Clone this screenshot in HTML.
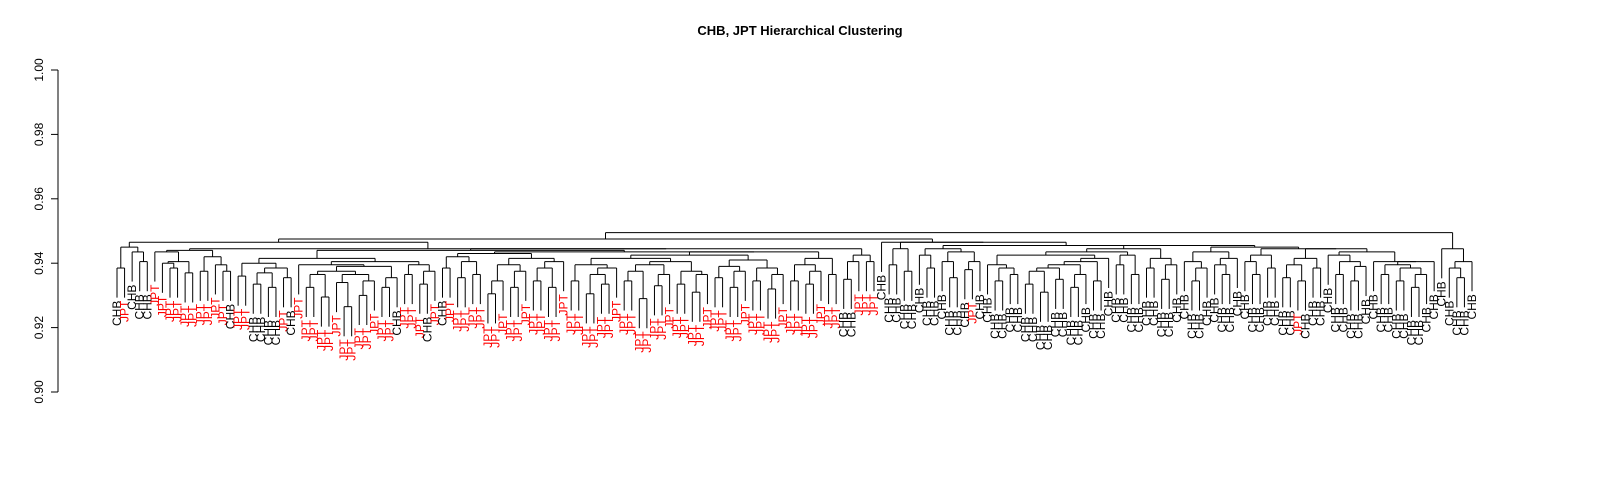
<!DOCTYPE html>
<html><head><meta charset="utf-8"><style>
body{margin:0;background:#fff}
svg{display:block;font-family:"Liberation Sans",sans-serif}
</style></head><body>
<svg id="chart" width="1600" height="480" viewBox="0 0 1600 480">
<text x="800" y="35" text-anchor="middle" font-weight="bold" font-size="13">CHB, JPT Hierarchical Clustering</text>
<g id="axis"></g>
<g id="tree"></g>
</svg>
<script>
const yTicks = [0.90, 0.92, 0.94, 0.96, 0.98, 1.00];
const yTickLabels = ["0.90", "0.92", "0.94", "0.96", "0.98", "1.00"];
const chbIdx = [0,2,3,4,15,18,19,20,21,23,37,41,43,96,97];
const jptRightIdx = [113,156];
const gapHeights = [
0.9385,0.945,0.9435,0.9405,0.9465,0.9435,0.940,0.9385,0.9405,0.937,
0.944,0.9375,0.942,0.9395,0.9375,0.9445,0.936,0.940,0.9335,0.937,
0.9325,0.9385,0.9355,0.9415,0.9395,0.9325,0.9365,0.9295,0.9375,0.934,
0.9265,0.9365,0.930,0.9345,0.939,0.9325,0.9355,0.9405,0.9365,0.9395,
0.9335,0.9375,0.944,0.9385,0.942,0.9355,0.9405,0.9365,0.943,0.9305,
0.9345,0.9395,0.9325,0.9375,0.9415,0.9345,0.9385,0.9325,0.9405,0.9435,
0.9345,0.9395,0.9305,0.9365,0.9335,0.9385,0.9415,0.9345,0.9375,0.929,
0.9395,0.933,0.9365,0.9405,0.9335,0.9375,0.931,0.9365,0.9425,0.9355,
0.939,0.9325,0.9375,0.941,0.9345,0.9385,0.932,0.9365,0.9435,0.9345,
0.9395,0.9335,0.9375,0.9415,0.9365,0.9445,0.935,0.9405,0.9425,0.9405,
0.9475,0.9465,0.9395,0.9445,0.9375,0.9465,0.9425,0.9385,0.9445,0.9405,
0.9355,0.9435,0.938,0.9405,0.9455,0.9395,0.9345,0.9385,0.9365,0.9425,
0.9335,0.9375,0.931,0.9385,0.935,0.9395,0.9325,0.9365,0.9405,0.9345,
0.9415,0.9435,0.9395,0.9425,0.9365,0.9445,0.9385,0.9415,0.935,0.9395,
0.9455,0.9405,0.9345,0.9385,0.9435,0.9395,0.9365,0.9415,0.945,0.9405,
0.9365,0.9425,0.9385,0.9445,0.9355,0.9395,0.9345,0.9415,0.9385,0.9445,
0.9425,0.9365,0.9405,0.9345,0.939,0.9435,0.9405,0.9365,0.9395,0.9345,
0.9385,0.9325,0.9365,0.9405,0.9495,0.9445,0.9385,0.9355,0.9405];
const nLeaves = gapHeights.length + 1;
const leafLabels = [];
for (let i = 0; i < nLeaves; i++) {
  let lab = (i <= 100) ? "JPT" : "CHB";
  if (chbIdx.includes(i)) lab = "CHB";
  if (jptRightIdx.includes(i)) lab = "JPT";
  leafLabels.push(lab);
}
const NS = "http://www.w3.org/2000/svg";
const x0 = 117, x1 = 1472;
const xs = i => x0 + i * (x1 - x0) / (nLeaves - 1);
const ys = v => 392 - (v - 0.90) / 0.10 * 322;
const hang = 0.0092;
const axis = document.getElementById('axis');
const tree = document.getElementById('tree');
function mk(tag, attrs, parent) {
  const e = document.createElementNS(NS, tag);
  for (const k in attrs) e.setAttribute(k, attrs[k]);
  parent.appendChild(e);
  return e;
}
let al = mk('line', {x1:58, x2:58, y1:ys(0.90), y2:ys(1.00), stroke:'#000'}, axis);


yTicks.forEach((t, k) => {
  const tk = mk('line', {x1:51, x2:58, y1:ys(t), y2:ys(t), stroke:'#000'}, axis);
  
  
  const tx = mk('text', {x:0, y:0, 'font-size':12, 'text-anchor':'middle', transform:`translate(43,${ys(t)}) rotate(-90)`}, axis);
  tx.textContent = yTickLabels[k];
  
  
});
function build(lo, hi) {
  if (lo === hi) return {x: xs(lo), h: null, leaf: lo};
  let m = lo;
  for (let i = lo; i < hi; i++) if (gapHeights[i] > gapHeights[m]) m = i;
  const L = build(lo, m), R = build(m + 1, hi);
  const h = gapHeights[m];
  const yh = ys(h);
  const hl = mk('line', {x1:L.x, x2:R.x, y1:yh, y2:yh, stroke:'#000', 'stroke-width':1}, tree);
  
  
  [L, R].forEach(c => {
    const bottom = c.h === null ? ys(h - hang) : ys(c.h);
    const vl = mk('line', {x1:c.x, x2:c.x, y1:yh, y2:bottom, stroke:'#000', 'stroke-width':1}, tree);
    
    
    if (c.h === null) {
      const lab = leafLabels[c.leaf];
      const t = mk('text', {x:0, y:0, 'font-size':12, 'text-anchor':'end', fill: lab === 'JPT' ? '#ff0000' : '#000',
        transform:`translate(${c.x + 4},${bottom + 3}) rotate(-90)`}, tree);
      t.textContent = lab;
      
      
    }
  });
  return {x: (L.x + R.x) / 2, h: h};
}
build(0, nLeaves - 1);
</script>
</body></html>
